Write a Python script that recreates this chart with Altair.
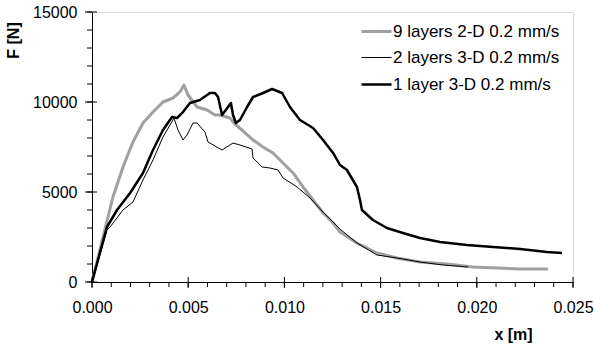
import altair as alt
import pandas as pd

# series names
names = ["9 layers 2-D 0.2 mm/s", "2 layers 3-D 0.2 mm/s", "1 layer 3-D 0.2 mm/s"]

gray_x = [0, 0.00057, 0.00109, 0.00161, 0.00213, 0.00265, 0.00317, 0.00369, 0.00421, 0.00457,
          0.00478, 0.00499, 0.00546, 0.00598, 0.00639, 0.00665, 0.00717, 0.00743, 0.00785, 0.00837,
          0.00889, 0.00941, 0.00993, 0.01045, 0.01097, 0.01149, 0.01201, 0.01253, 0.01289, 0.01377,
          0.01481, 0.01585, 0.01705, 0.01845, 0.0198, 0.02105, 0.02225, 0.0237]
gray_y = [0, 2500, 4722, 6389, 7778, 8833, 9444, 10000, 10222, 10556,
          10944, 10389, 9722, 9556, 9278, 9278, 9111, 8778, 8389, 7889,
          7500, 7167, 6611, 6056, 5278, 4556, 3833, 3278, 2778, 2167,
          1611, 1333, 1111, 1000, 833, 778, 722, 722]

thin_x = [0, 0.00078, 0.00094, 0.00161, 0.00213, 0.00265, 0.00317, 0.00369, 0.00426, 0.00447,
          0.00473, 0.00494, 0.00525, 0.00546, 0.00587, 0.00603, 0.00676, 0.00733, 0.00769, 0.00832,
          0.00837, 0.00884, 0.00925, 0.00967, 0.00993, 0.01066, 0.01133, 0.01201, 0.01289, 0.01377,
          0.01481, 0.01585, 0.01705, 0.01824, 0.01954]
thin_y = [0, 2889, 3056, 4000, 4444, 5667, 6778, 8056, 9100, 8444,
          7889, 8167, 8833, 8833, 8333, 7778, 7333, 7722, 7611, 7389,
          6889, 6389, 6333, 6222, 5778, 5278, 4667, 3889, 2944, 2167,
          1500, 1333, 1111, 944, 833]

thick_x = [0, 0.00078, 0.0013, 0.00198, 0.00265, 0.00317, 0.00369, 0.00416, 0.00442, 0.00473,
           0.00509, 0.00561, 0.00613, 0.00639, 0.00655, 0.00676, 0.00707, 0.00722, 0.00733, 0.00748,
           0.00769, 0.00806, 0.00837, 0.00889, 0.00936, 0.00988, 0.01029, 0.01081, 0.01149, 0.01201,
           0.01253, 0.01289, 0.01325, 0.01377, 0.01393, 0.01403, 0.0146, 0.01533, 0.01616, 0.01705,
           0.01809, 0.01949, 0.02084, 0.02225, 0.02365, 0.02443]
thick_y = [0, 3056, 4000, 4944, 6056, 7333, 8444, 9167, 9111, 9444,
           9944, 10111, 10500, 10500, 10278, 9278, 9722, 9944, 9278, 8833,
           9000, 9722, 10278, 10500, 10722, 10500, 9722, 9000, 8556, 7889,
           7167, 6500, 6222, 5278, 4556, 4000, 3444, 3000, 2722, 2444,
           2222, 2056, 1944, 1833, 1667, 1611]

x_major = [0, 0.005, 0.01, 0.015, 0.02, 0.025]
x_minor = [i / 1000 for i in range(0, 26)]
y_major = [0, 5000, 10000, 15000]
y_minor = list(range(0, 15001, 1000))

rows = []
for name, xs_, ys_ in zip(names, [gray_x, thin_x, thick_x], [gray_y, thin_y, thick_y]):
    for i, (a, b) in enumerate(zip(xs_, ys_)):
        rows.append({"series": name, "x": a, "y": b, "i": i})
df = pd.DataFrame(rows)

FONT = "Liberation Sans"
W, H = 481, 270

xscale = alt.Scale(domain=[0, 0.025], nice=False, zero=False)
yscale = alt.Scale(domain=[0, 15000], nice=False)

leg = alt.Legend(title=None, orient="none", legendX=268, legendY=3,
                 symbolType="stroke", symbolSize=900, labelFontSize=17, labelLimit=400,
                 labelColor="black", labelOffset=0, rowPadding=2, padding=0,
                 labelFont=FONT)

lines = alt.Chart(df).mark_line(strokeJoin="round").encode(
    x=alt.X("x:Q", scale=xscale, axis=alt.Axis(
        orient="bottom", values=x_major, format=".3f", ticks=False, grid=False, labelFlush=False,
        domainColor="black", domainWidth=1, labelFontSize=16, labelColor="black",
        labelPadding=17, title="x [m]", titleFontSize=16, titleFontWeight="bold",
        titleColor="black", titleX=421, titleY=52, titleAlign="center", titleBaseline="middle")),
    y=alt.Y("y:Q", scale=yscale, axis=alt.Axis(
        orient="left", values=y_major, format="d", ticks=False, grid=False, labelFlush=False,
        domainColor="black", domainWidth=1, labelFontSize=16, labelColor="black",
        labelPadding=15, title="F [N]", titleFontSize=16, titleFontWeight="bold",
        titleColor="black", titleX=-79, titleY=28, titleAlign="center", titleBaseline="middle", titleAngle=-90)),
    color=alt.Color("series:N", scale=alt.Scale(domain=names, range=["#a0a0a0", "#000000", "#000000"]),
                    legend=leg),
    strokeWidth=alt.StrokeWidth("series:N", scale=alt.Scale(type="ordinal", domain=names, range=[3, 1, 2.5]),
                                legend=leg),
    order="i:Q",
)

# tick marks drawn through the scales
xminor_df = pd.DataFrame({"t": x_minor})
xmajor_df = pd.DataFrame({"t": x_major})
yminor_df = pd.DataFrame({"t": y_minor})
ymajor_df = pd.DataFrame({"t": y_major})

xminor = alt.Chart(xminor_df).mark_rule(color="black", strokeWidth=1).encode(
    x=alt.X("t:Q", scale=xscale), y=alt.value(H), y2=alt.value(H + 5))
xmajor = alt.Chart(xmajor_df).mark_rule(color="black", strokeWidth=1).encode(
    x=alt.X("t:Q", scale=xscale), y=alt.value(H - 5), y2=alt.value(H + 6))
yminor = alt.Chart(yminor_df).mark_rule(color="black", strokeWidth=1).encode(
    y=alt.Y("t:Q", scale=yscale), x=alt.value(-5), x2=alt.value(0))
ymajor = alt.Chart(ymajor_df).mark_rule(color="black", strokeWidth=1).encode(
    y=alt.Y("t:Q", scale=yscale), x=alt.value(-7), x2=alt.value(5))

chart = alt.layer(lines, xminor, xmajor, yminor, ymajor).properties(
    width=W, height=H,
    autosize=alt.AutoSizeParams(type="none"),
    padding={"left": 92, "top": 12, "right": 23, "bottom": 64},
    background="white",
).configure_view(stroke=None).configure(font=FONT)

chart.save("out.html", embed_options={"renderer": "svg", "actions": False})
